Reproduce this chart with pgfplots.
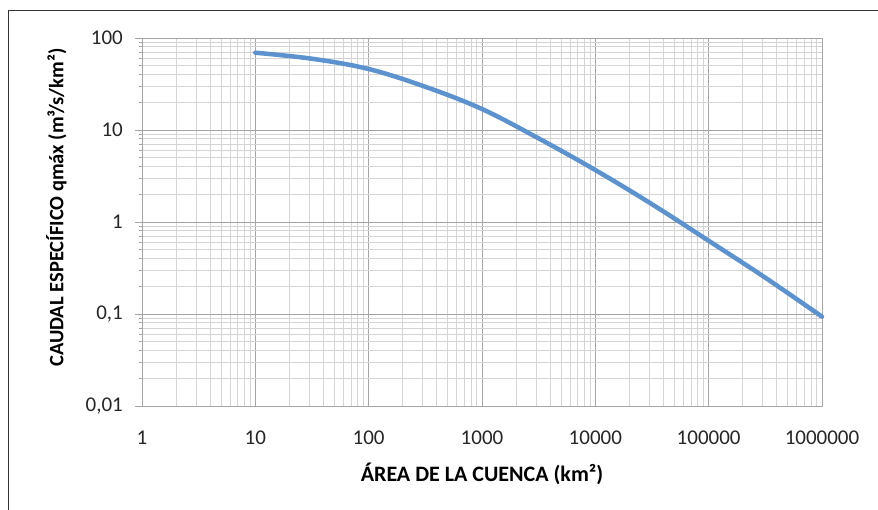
\documentclass[border=0pt]{standalone}
\usepackage{fontspec}
\setmainfont{Carlito}
\usepackage{pgfplots}
\pgfplotsset{compat=1.18}
\definecolor{curve}{RGB}{92,146,206}
\definecolor{majgrid}{RGB}{165,165,165}
\definecolor{mingrid}{RGB}{212,212,212}
\begin{document}
\begin{tikzpicture}
\useasboundingbox (0pt,0pt) rectangle (878pt,509pt);
\fill[white] (0pt,0pt) rectangle (878pt,509pt);
\draw[line width=1.2pt, black!80] (8.5pt,-5pt) rectangle (890pt,498.5pt);
\begin{axis}[
  at={(142pt,103pt)}, anchor=south west,
  scale only axis, width=680pt, height=368pt,
  xmode=log, ymode=log,
  xmin=1, xmax=1000000, ymin=0.01, ymax=100,
  xtick={1,10,100,1000,10000,100000,1000000},
  xticklabels={1,10,100,1000,10000,100000,1000000},
  ytick={0.01,0.1,1,10,100},
  yticklabels={0{,}01,0{,}1,1,10,100},
  minor xtick={2,3,4,5,6,7,8,9,20,30,40,50,60,70,80,90,200,300,400,500,600,700,800,900,2000,3000,4000,5000,6000,7000,8000,9000,20000,30000,40000,50000,60000,70000,80000,90000,200000,300000,400000,500000,600000,700000,800000,900000},
  minor ytick={0.02,0.03,0.04,0.05,0.06,0.07,0.08,0.09,0.2,0.3,0.4,0.5,0.6,0.7,0.8,0.9,2,3,4,5,6,7,8,9,20,30,40,50,60,70,80,90},
  grid=both,
  major grid style={draw=majgrid, line width=0.9pt},
  minor grid style={draw=mingrid, line width=0.9pt},
  axis line style={draw=majgrid, line width=0.9pt},
  xtick style={draw=none},
  minor tick style={draw=none},
  ytick style={draw=majgrid, line width=0.9pt},
  tick align=outside,
  major tick length=7pt,
  xtick pos=bottom, ytick pos=left,
  xticklabel style={anchor=center, yshift=-25pt, font=\fontsize{21}{24}\selectfont, text=black!85},
  yticklabel style={anchor=east, inner sep=0pt, xshift=-12pt, font=\fontsize{21}{24}\selectfont, text=black!85},
  xlabel={\textbf{ÁREA DE LA CUENCA (km²)}},
  ylabel={\textbf{CAUDAL ESPECÍFICO qmáx (m³/s/km²)}},
  xlabel style={at={(axis description cs:0.5,-0.185)}, anchor=center, font=\fontsize{22}{26}\selectfont},
  ylabel style={at={(axis description cs:-0.126,0.539)}, anchor=center, font=\fontsize{20.5}{24}\selectfont},
  clip=false,
]
\addplot[curve, line width=4.5pt, smooth, tension=0.6, line cap=round] coordinates {
(10,69.2) (31.6,59.5) (100,46) (316,29.5) (1000,16.9) (3162,8.1)
(10000,3.67) (31623,1.56) (100000,0.625) (316228,0.248) (1000000,0.0935)
};
\end{axis}
\end{tikzpicture}
\end{document}
